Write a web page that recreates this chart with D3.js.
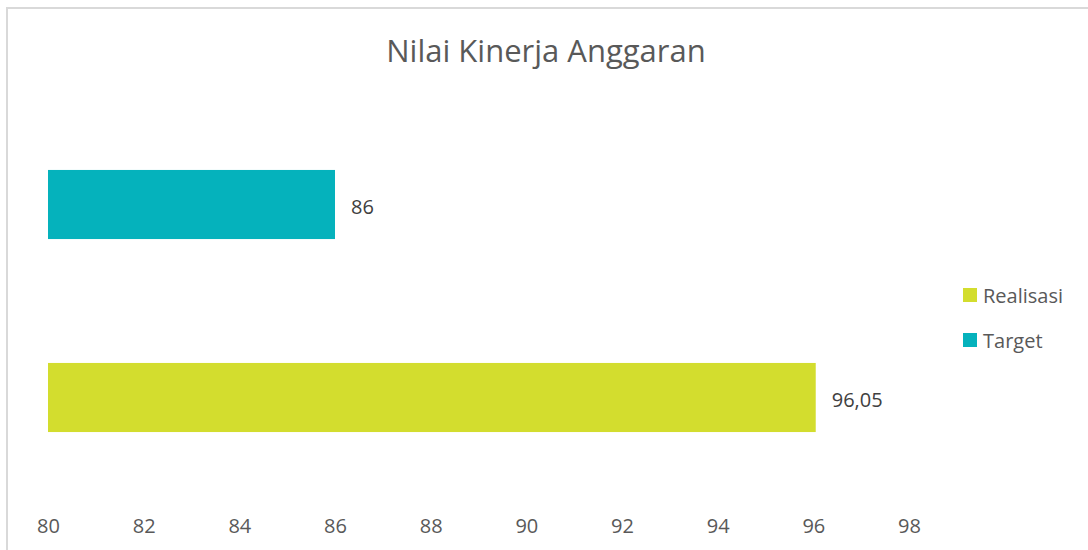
<!DOCTYPE html>
<html><head><meta charset="utf-8">
<script src="https://cdn.jsdelivr.net/npm/d3@7"></script>
<style>
html,body{margin:0;padding:0;background:#fff;}
svg{display:block;font-family:"Open Sans",sans-serif;}
</style></head>
<body>
<svg id="chart" width="1088" height="550"></svg>
<script>
const categories = ["Target", "Realisasi"];
const values = [86, 96.05];
const valueLabels = ["86", "96,05"];
const colors = ["#05B2BC", "#D3DD2E"];
const legendOrder = ["Realisasi", "Target"];
const tickValues = [80, 82, 84, 86, 88, 90, 92, 94, 96, 98];
const title = "Nilai Kinerja Anggaran";

const svg = d3.select("#chart");
const textColor = "#595959";

svg.append("rect").attr("x", 7).attr("y", 8).attr("width", 1100).attr("height", 600)
  .attr("fill", "#fff").attr("stroke", "#d9d9d9").attr("stroke-width", 2);

svg.append("text").attr("x", 546).attr("y", 62).attr("text-anchor", "middle")
  .attr("font-size", 31).attr("fill", textColor).text(title);

const x = d3.scaleLinear().domain([80, 98]).range([48, 909]);
const y = d3.scaleBand().domain(categories).range([108, 494]).paddingInner(0.642).paddingOuter(0.321);
const color = d3.scaleOrdinal().domain(categories).range(colors);

const data = categories.map((c, i) => ({cat: c, v: values[i], label: valueLabels[i]}));

svg.append("g").selectAll("rect").data(data).join("rect")
  .attr("x", x(80)).attr("y", d => y(d.cat))
  .attr("width", d => x(d.v) - x(80)).attr("height", y.bandwidth())
  .attr("fill", d => color(d.cat));

svg.append("g").selectAll("text").data(data).join("text")
  .attr("x", d => x(d.v) + 16).attr("y", d => y(d.cat) + y.bandwidth() / 2 + 2)
  .attr("dy", "0.35em").attr("font-size", 20).attr("fill", "#404040")
  .text(d => d.label);

const axis = d3.axisBottom(x).tickValues(tickValues).tickSize(0).tickPadding(25).tickFormat(d => d);
const ag = svg.append("g").attr("transform", "translate(0,494)").call(axis);
ag.select(".domain").remove();
ag.selectAll("text").attr("font-size", 20).attr("fill", textColor).attr("font-family", "Open Sans");

const lg = svg.append("g");
legendOrder.forEach((c, i) => {
  const yy = 295 + i * 45;
  lg.append("rect").attr("x", 963).attr("y", yy - 7).attr("width", 14).attr("height", 14).attr("fill", color(c));
  lg.append("text").attr("x", 983).attr("y", yy + 1).attr("dy", "0.35em")
    .attr("font-size", 20).attr("fill", textColor).text(c);
});
</script>
</body></html>
